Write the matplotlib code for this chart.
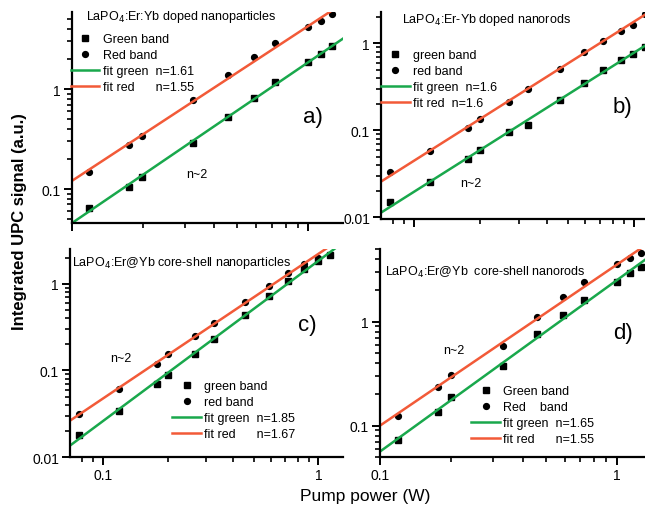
"""Power dependence of UPC emission — four log-log panels."""

import matplotlib
matplotlib.use("Agg")
import matplotlib.pyplot as plt
import numpy as np
from matplotlib.ticker import LogLocator, FuncFormatter, NullFormatter

plt.rcParams["font.family"] = ["Liberation Sans", "DejaVu Sans"]

GREEN = "#19a84c"
RED = "#f25a38"

# panel a: LaPO4:Er:Yb doped nanoparticles
power_a = [0.118, 0.174, 0.198, 0.326, 0.458, 0.59, 0.724, 1.0, 1.135, 1.26]
green_a = [0.0646, 0.104, 0.133, 0.288, 0.529, 0.813, 1.18, 1.87, 2.24, 2.71]
red_a = [0.147, 0.277, 0.341, 0.776, 1.38, 2.07, 2.86, 4.2, 4.82, 5.62]
n_a = (1.61, 1.55)

# panel b: LaPO4:Er-Yb doped nanorods
power_b = [0.078, 0.118, 0.176, 0.2, 0.27, 0.33, 0.46, 0.59, 0.72, 0.87, 0.99, 1.12]
green_b = [0.0150, 0.0255, 0.0473, 0.060, 0.095, 0.116, 0.224, 0.354, 0.493, 0.641, 0.764, 0.912]
red_b = [0.0334, 0.0585, 0.108, 0.136, 0.214, 0.299, 0.515, 0.80, 1.08, 1.39, 1.61, 2.19]
n_b = (1.6, 1.6)

# panel c: LaPO4:Er@Yb core-shell nanoparticles
power_c = [0.077, 0.119, 0.177, 0.199, 0.266, 0.327, 0.456, 0.59, 0.724, 0.86, 1.0, 1.127]
green_c = [0.0178, 0.0337, 0.0703, 0.0892, 0.156, 0.232, 0.439, 0.733, 1.08, 1.49, 1.84, 2.16]
red_c = [0.0311, 0.0615, 0.119, 0.153, 0.253, 0.352, 0.625, 0.955, 1.34, 1.70, 2.0]
n_c = (1.85, 1.67)

# panel d: LaPO4:Er@Yb core-shell nanorods
power_d = [0.119, 0.176, 0.199, 0.33, 0.461, 0.589, 0.727, 1.0, 1.13, 1.26]
green_d = [0.073, 0.136, 0.188, 0.378, 0.762, 1.16, 1.62, 2.42, 2.92, 3.38]
red_d = [0.125, 0.237, 0.307, 0.588, 1.10, 1.74, 2.39, 3.59, 4.10, 4.58]
n_d = (1.65, 1.55)

W, H = 645, 510


def px_rect(left, top, right, bottom):
    return [left / W, 1 - bottom / H, (right - left) / W, (bottom - top) / H]


def fig_text(fig, x, y, s, **kw):
    fig.text(x / W, 1 - y / H, s, va="center", **kw)


def fit_line(power, signal, n, xlim):
    # fixed exponent, intercept from the data
    lp, ls = np.log10(power), np.log10(signal[:len(power)])
    a = np.mean(ls - n * lp[:len(ls)])
    xs = np.logspace(np.log10(xlim[0]), np.log10(xlim[1]), 50)
    return xs, 10 ** a * xs ** n


def tick_fmt(v, pos):
    return f"{v:g}"


def draw_panel(fig, rect, xlim, ylim, power, green, red, ns, labels,
               leg_anchor, xlabels):
    ax = fig.add_axes(rect)
    ax.set_xscale("log")
    ax.set_yscale("log")
    ax.set_xlim(*xlim)
    ax.set_ylim(*ylim)

    ax.plot(power[:len(green)], green, "s", color="black", ms=3.8,
            label=labels[0])
    ax.plot(power[:len(red)], red, "o", color="black", ms=4.2,
            label=labels[1])
    xs, ys = fit_line(np.array(power[:len(green)]), np.array(green), ns[0], xlim)
    ax.plot(xs, ys, color=GREEN, lw=1.8, label=labels[2])
    xs, ys = fit_line(np.array(power[:len(red)]), np.array(red), ns[1], xlim)
    ax.plot(xs, ys, color=RED, lw=1.8, label=labels[3])

    for s in ("top", "right"):
        ax.spines[s].set_visible(False)
    for s in ("left", "bottom"):
        ax.spines[s].set_linewidth(1.6)
    ax.xaxis.set_major_locator(LogLocator(base=10, numticks=10))
    ax.xaxis.set_minor_locator(LogLocator(base=10, subs=np.arange(2, 10), numticks=10))
    ax.yaxis.set_major_locator(LogLocator(base=10, numticks=10))
    ax.yaxis.set_minor_locator(LogLocator(base=10, subs=np.arange(2, 10), numticks=10))
    ax.yaxis.set_major_formatter(FuncFormatter(tick_fmt))
    ax.yaxis.set_minor_formatter(NullFormatter())
    ax.xaxis.set_minor_formatter(NullFormatter())
    if xlabels:
        ax.xaxis.set_major_formatter(FuncFormatter(tick_fmt))
    else:
        ax.xaxis.set_major_formatter(NullFormatter())
    ax.tick_params(which="major", direction="out", length=6, width=1.4,
                   labelsize=10, pad=2)
    ax.tick_params(which="minor", direction="out", length=3.5, width=1.2)

    ax.legend(loc="upper left", bbox_to_anchor=leg_anchor, frameon=False,
              fontsize=9, handlelength=2.3, handletextpad=0.25,
              labelspacing=0.32, borderaxespad=0, borderpad=0)
    return ax


fig = plt.figure(figsize=(6.45, 5.1), dpi=100)

draw_panel(fig, px_rect(72, 13, 343, 224), (0.1, 1.4), (0.0457, 5.9),
           power_a, green_a, red_a, n_a,
           ["Green band", "Red band", "fit green  n=1.61", "fit red      n=1.55"],
           (-0.005, 0.9), False)
draw_panel(fig, px_rect(381, 13, 645, 220), (0.0708, 1.12), (0.0096, 2.3),
           power_b, green_b, red_b, n_b,
           ["green band", "red band", "fit green  n=1.6", "fit red  n=1.6"],
           (0.0, 0.82), False)
draw_panel(fig, px_rect(70, 250, 343, 458), (0.0701, 1.3), (0.01, 2.53),
           power_c, green_c, red_c, n_c,
           ["green band", "red band", "fit green  n=1.85", "fit red      n=1.67"],
           (0.375, 0.37), True)
draw_panel(fig, px_rect(380, 250, 645, 458), (0.1, 1.31), (0.05, 5.0),
           power_d, green_d, red_d, n_d,
           ["Green band", "Red    band", "fit green  n=1.65", "fit red      n=1.55"],
           (0.345, 0.345), True)

# sample titles
fig_text(fig, 86, 17, "LaPO$_4$:Er:Yb doped nanoparticles", fontsize=9)
fig_text(fig, 402, 20, "LaPO$_4$:Er-Yb doped nanorods", fontsize=9)
fig_text(fig, 72, 263, "LaPO$_4$:Er@Yb core-shell nanoparticles", fontsize=9)
fig_text(fig, 385, 272, "LaPO$_4$:Er@Yb  core-shell nanorods", fontsize=9)

# panel letters
for x, y, s in [(303, 118, "a)"), (613, 108, "b)"), (298, 326, "c)"), (613, 333, "d)")]:
    fig_text(fig, x, y, s, fontsize=16)

# slope notes
for x, y in [(186, 175), (460, 184), (110, 359), (443, 351)]:
    fig_text(fig, x, y, "n~2", fontsize=9)

fig.text(20 / W, 1 - 222 / H, "Integrated UPC signal (a.u.)", rotation=90,
         ha="center", va="center", fontsize=12, fontweight="bold")
fig.text(365 / W, 1 - 497 / H, "Pump power (W)", ha="center", va="center",
         fontsize=12.5)

fig.savefig("out.png", dpi=100)
